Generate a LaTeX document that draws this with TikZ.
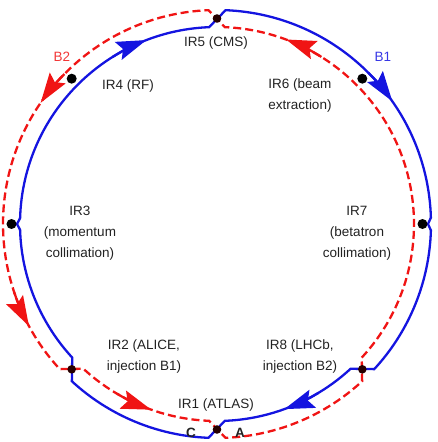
\documentclass[tikz,border=0pt]{standalone}
\usepackage{fontspec}
\setmainfont{Liberation Sans}
\usepackage{tikz}
\usetikzlibrary{arrows.meta}
\usepackage{xcolor}
\definecolor{beamblue}{HTML}{1414E0}
\definecolor{beamred}{HTML}{F01414}
\definecolor{irtext}{HTML}{222222}

\begin{document}
\begin{tikzpicture}[x=1pt, y=1pt, >={Stealth[length=30pt, width=19pt, inset=5pt]},
  b1/.style={beamblue, line width=2.3pt, line join=miter},
  b2/.style={beamred, line width=2.3pt, dash pattern=on 8pt off 4pt},
  irlabel/.style={irtext, align=center, font=\fontsize{13.5}{21}\selectfont}]
  \useasboundingbox (-217,-218) rectangle (220,224);

  % beam 1, clockwise
  \draw[b1] (-42.7:214) arc[start angle=-42.7, end angle=-1.7, radius=214pt] -- (0:211)
    -- (1.7:214) arc[start angle=1.7, end angle=87.7, radius=214pt]
    -- (92.3:197) arc[start angle=92.3, end angle=178.3, radius=197pt] -- (180:200)
    -- (181.7:197) arc[start angle=181.7, end angle=222.7, radius=197pt]
    -- (227.3:214) arc[start angle=227.3, end angle=267.7, radius=214pt]
    -- (272.3:197) arc[start angle=272.3, end angle=312.7, radius=197pt] -- cycle;
  % beam 2, anticlockwise
  \draw[b2] (-42.7:197) arc[start angle=-42.7, end angle=87.7, radius=197pt]
    -- (92.3:214) arc[start angle=92.3, end angle=222.7, radius=214pt]
    -- (227.3:197) arc[start angle=227.3, end angle=267.7, radius=197pt]
    -- (272.3:214) arc[start angle=272.3, end angle=312.7, radius=214pt] -- cycle;

  \draw[b1, ->] (122:197) arc[start angle=122, end angle=111, radius=197pt];
  \draw[b1, ->] (45:214) arc[start angle=45, end angle=35, radius=214pt];
  \draw[b1, ->] (-59:197) arc[start angle=-59, end angle=-70, radius=197pt];
  \draw[b2, solid, ->] (58:197) arc[start angle=58, end angle=69.5, radius=197pt];
  \draw[b2, solid, ->] (135.5:214) arc[start angle=135.5, end angle=145.5, radius=214pt];
  \draw[b2, solid, ->] (198.5:214) arc[start angle=198.5, end angle=208.5, radius=214pt];
  \draw[b2, solid, ->] (239.5:197) arc[start angle=239.5, end angle=250.5, radius=197pt];

  \fill (0:205.5) circle (5pt);
  \fill (45:205.5) circle (5pt);
  \fill (135:205.5) circle (5pt);
  \fill (180:205.5) circle (5pt);
  \fill[black!85!red] (90:205.5) circle (4.3pt);
  \fill[black!85!red] (225:205.5) circle (4.3pt);
  \fill[black!85!red] (270:205.5) circle (4.3pt);
  \fill[black!85!red] (315:205.5) circle (4.3pt);

  \node[irlabel, text=beamred!85!white] (b2) at (-155,167) {B2};
  \node[irlabel, text=beamblue!85!white] (b1) at (166,167) {B1};
  \node[irlabel] (ir5) at (-1,181) {IR5 (CMS)};
  \node[irlabel] (ir4) at (-89,138) {IR4 (RF)};
  \node[irlabel] (ir6) at (83,128) {IR6 (beam\\extraction)};
  \node[irlabel] (ir3) at (-137,-9) {IR3\\(momentum\\collimation)};
  \node[irlabel] (ir7) at (140,-9) {IR7\\(betatron\\collimation)};
  \node[irlabel] (ir2) at (-73,-133) {IR2 (ALICE,\\injection B1)};
  \node[irlabel] (ir8) at (83,-133) {IR8 (LHCb,\\injection B2)};
  \node[irlabel] (ir1) at (-1,-181) {IR1 (ATLAS)};
  \node[irlabel, font=\fontsize{13.5}{21}\selectfont\bfseries] (c) at (-26,-209) {C};
  \node[irlabel, font=\fontsize{13.5}{21}\selectfont\bfseries] (a) at (23,-209) {A};
\end{tikzpicture}
\end{document}
